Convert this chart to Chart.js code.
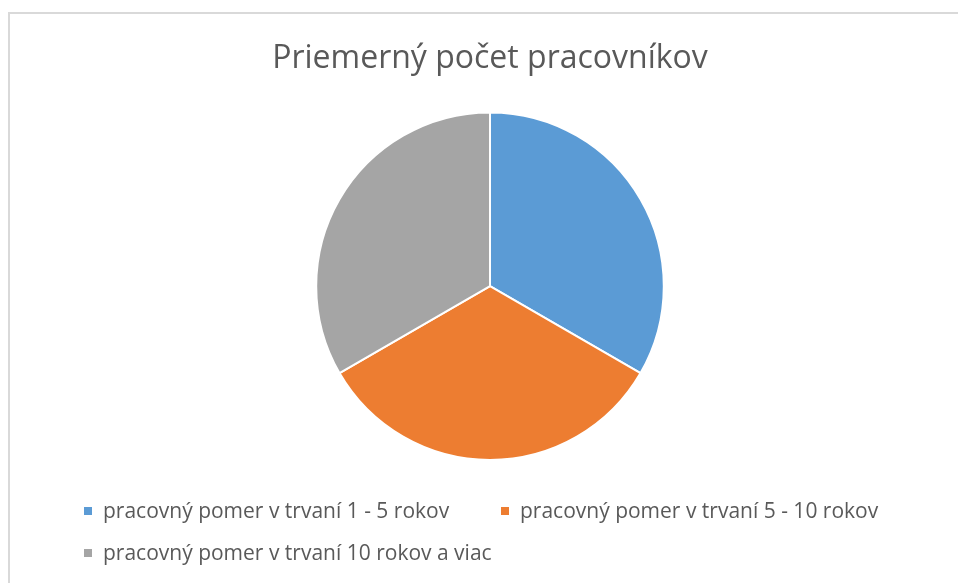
<!DOCTYPE html>
<html><head><meta charset="utf-8">
<script src="https://cdn.jsdelivr.net/npm/chart.js@4.4.1/dist/chart.umd.min.js"></script>
<style>
html,body{margin:0;padding:0;background:#fff;overflow:hidden;width:958px;height:583px;}
#frame{position:absolute;left:8px;top:12px;width:1000px;height:700px;border:2px solid #d9d9d9;box-sizing:border-box;}
#wrap{position:absolute;left:0;top:0;width:958px;height:583px;}
</style></head>
<body>
<div id="frame"></div>
<div id="wrap"><canvas id="c" width="958" height="583"></canvas></div>
<script>
const chartTitle = "Priemerný počet pracovníkov";
const categories = [
  "pracovný pomer v trvaní 1 - 5 rokov",
  "pracovný pomer v trvaní 5 - 10 rokov",
  "pracovný pomer v trvaní 10 rokov a viac"
];
const values = [1, 1, 1];
const colors = ["#5B9BD5", "#ED7D31", "#A5A5A5"];

const FONT = "'Open Sans', sans-serif";
const TEXT_COLOR = "#595959";

const gridLegend = {
  id: 'gridLegend',
  afterDraw(chart) {
    const ctx = chart.ctx;
    const items = chart.options.plugins.legend.labels.generateLabels(chart);
    const cols = [84, 501];
    const rows = [511, 553];
    ctx.save();
    ctx.font = "21px " + FONT;
    ctx.textBaseline = 'middle';
    ctx.textAlign = 'left';
    items.forEach((it, i) => {
      const x = cols[i % 2];
      const y = rows[Math.floor(i / 2)];
      ctx.fillStyle = it.fillStyle;
      ctx.fillRect(x, y - 4, 8, 8);
      ctx.fillStyle = TEXT_COLOR;
      ctx.fillText(it.text, x + 19, y + 1);
    });
    ctx.restore();
  }
};

new Chart(document.getElementById('c'), {
  type: 'pie',
  data: {
    labels: categories,
    datasets: [{
      data: values,
      backgroundColor: colors,
      borderColor: '#ffffff',
      borderWidth: 2
    }]
  },
  options: {
    responsive: false,
    animation: false,
    layout: { padding: { left: 22, right: 0, top: 0, bottom: 122 } },
    plugins: {
      legend: { display: false },
      tooltip: { enabled: false },
      title: {
        display: true,
        text: chartTitle,
        color: TEXT_COLOR,
        font: { family: FONT, size: 32, weight: 'normal' },
        padding: { top: 40, bottom: 33 }
      }
    }
  },
  plugins: [gridLegend]
});
</script>
</body></html>
